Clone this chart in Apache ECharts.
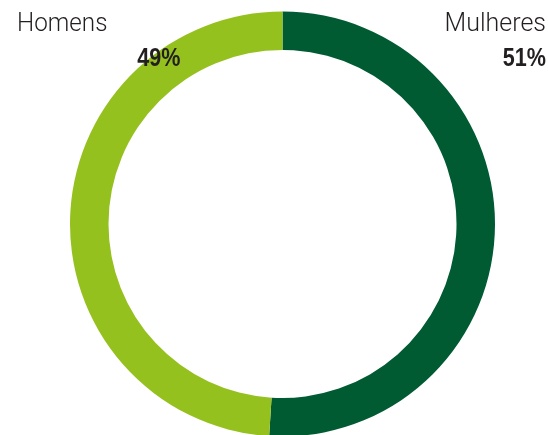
<!DOCTYPE html>
<html>
<head>
<meta charset="utf-8">
<script src="https://cdn.jsdelivr.net/npm/echarts@6/dist/echarts.min.js"></script>
<style>
html,body{margin:0;padding:0;background:#fff;}
#chart{width:548px;height:435px;}
</style>
</head>
<body>
<div id="chart"></div>
<script>
var categories = ['Mulheres', 'Homens'];
var values = [51, 49];
var colors = ['#005a32', '#95c11f'];
var valueLabels = ['51%', '49%'];

var chart = echarts.init(document.getElementById('chart'), null, {renderer: 'canvas'});

var nameFont = {fontFamily: 'Roboto', fontWeight: 300, fontSize: 25, fill: '#231f20'};
var pctFont = {fontFamily: 'Liberation Sans', fontWeight: 'bold', fontSize: 26, fill: '#231f20'};

var graphics = [
  {type: 'text', z: 100, x: 546, y: 24.7, style: Object.assign({text: categories[0], align: 'right', verticalAlign: 'middle'}, nameFont)},
  {type: 'text', z: 100, x: 17, y: 24.7, scaleX: 0.97, style: Object.assign({text: categories[1], align: 'left', verticalAlign: 'middle'}, nameFont)},
  {type: 'text', z: 100, x: 546, y: 58.8, scaleX: 0.83, style: Object.assign({text: valueLabels[0], align: 'right', verticalAlign: 'middle'}, pctFont)},
  {type: 'text', z: 100, x: 137.3, y: 58.4, scaleX: 0.83, style: Object.assign({text: valueLabels[1], align: 'left', verticalAlign: 'middle'}, pctFont)}
];

chart.setOption({
  animation: false,
  backgroundColor: '#ffffff',
  series: [{
    type: 'pie',
    z: 1,
    center: [282.5, 224],
    radius: [174, 212.5],
    startAngle: 90,
    clockwise: true,
    silent: true,
    label: {show: false},
    labelLine: {show: false},
    data: categories.map(function (c, i) {
      return {name: c, value: values[i], itemStyle: {color: colors[i]}};
    })
  }],
  graphic: {elements: graphics}
});
</script>
</body>
</html>
